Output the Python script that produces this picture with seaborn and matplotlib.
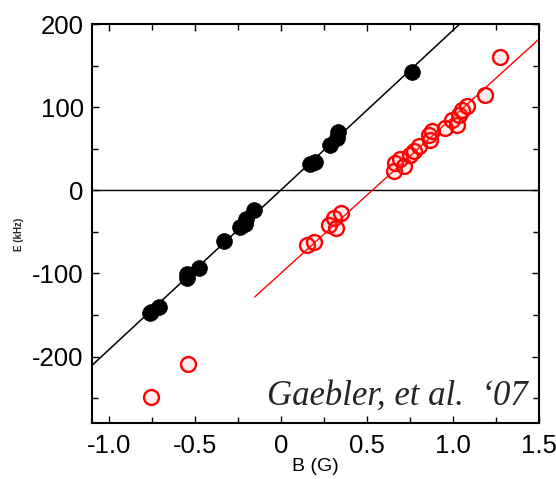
import numpy as np
import pandas as pd
import matplotlib
matplotlib.use("Agg")
import matplotlib.pyplot as plt
import seaborn as sns
from matplotlib.ticker import MultipleLocator

# ---------------- data ----------------
black_B = [-0.765, -0.755, -0.712, -0.550, -0.545, -0.479, -0.334, -0.237, -0.210,
           -0.202, -0.159, 0.170, 0.199, 0.287, 0.326, 0.330, 0.762]
black_E = [-148, -146, -141, -106, -101, -93, -61, -44, -40,
           -35, -24, 31, 34, 54, 63, 70, 142]

red_B = [-0.756, -0.543, 0.150, 0.190, 0.280, 0.310, 0.320, 0.350,
         0.655, 0.665, 0.694, 0.713, 0.752, 0.771, 0.800, 0.858, 0.868, 0.878,
         0.955, 0.994, 1.023, 1.033, 1.052, 1.081, 1.188, 1.275]
red_E = [-249, -209, -66, -62, -42, -33, -46, -27,
         23, 33, 37, 29, 43, 47, 53, 67, 61, 71,
         75, 85, 79, 91, 97, 101, 115, 160]

black_fit = (192.0, 0.5)          # slope (kHz/G), intercept (kHz)
black_fit_range = (-1.1, 1.2)
red_fit = (187.6, -99.6)
red_fit_range = (-0.153, 1.5)

x_ticks = [-1.0, -0.5, 0.0, 0.5, 1.0, 1.5]
x_tick_labels = ["-1.0", "-0.5", "0", "0.5", "1.0", "1.5"]
y_ticks = [-200, -100, 0, 100, 200]
y_tick_labels = ["-200", "-100", "0", "100", "200"]
x_label = "B (G)"
y_label = "E (kHz)"
note = "Gaebler, et al.  \u201807"

# ---------------- style ----------------
sns.set_style("white")
plt.rcParams["font.family"] = ["Liberation Sans", "DejaVu Sans"]

fig = plt.figure(figsize=(5.56, 4.79), dpi=100)
ax = fig.add_axes([92 / 556, 56 / 479, (539 - 92) / 556, (423 - 24) / 479])

df_black = pd.DataFrame({"B": black_B, "E": black_E})
df_red = pd.DataFrame({"B": red_B, "E": red_E})

# fit lines
xb = np.array(black_fit_range)
ax.plot(xb, black_fit[0] * xb + black_fit[1], color="black", lw=1.1, zorder=2)
xr = np.array(red_fit_range)
ax.plot(xr, red_fit[0] * xr + red_fit[1], color="red", lw=1.0, zorder=2)
ax.axhline(0, color="black", lw=1.0, zorder=1)

sns.scatterplot(data=df_black, x="B", y="E", ax=ax, color="black", s=130,
                edgecolor="black", linewidth=0.5, zorder=3, legend=False)
sns.scatterplot(data=df_red, x="B", y="E", ax=ax, s=115,
                facecolor=(1, 0.4, 0.4, 0.12), edgecolor="red", linewidth=1.7,
                zorder=3, legend=False)

ax.set_xlim(-1.1, 1.5)
ax.set_ylim(-280, 200)

ax.set_xticks(x_ticks)
ax.set_xticklabels(x_tick_labels)
ax.set_yticks(y_ticks)
ax.set_yticklabels(y_tick_labels)
ax.xaxis.set_minor_locator(MultipleLocator(0.25))
ax.yaxis.set_minor_locator(MultipleLocator(50))
ax.tick_params(which="both", direction="in", top=True, right=True,
               bottom=True, left=True, width=1.0, color="black")
ax.tick_params(which="major", length=5, labelsize=18.5, pad=6, labelcolor="black")
ax.tick_params(which="minor", length=4)
ax.tick_params(axis="x", which="major", pad=8)

for s in ax.spines.values():
    s.set_linewidth(1.5)
    s.set_color("black")

ax.set_xlabel(x_label, fontsize=14, labelpad=0, color="black")
ax.set_ylabel("")
fig.text(19 / 556, 1 - 234 / 479, y_label, rotation=90, fontsize=7,
         fontweight="bold", ha="center", va="center")

ax.text(1.432, -258.5, note, family=["Liberation Serif", "DejaVu Serif"],
        style="italic", fontsize=25, ha="right", va="baseline")

fig.savefig("out.png", dpi=100)
